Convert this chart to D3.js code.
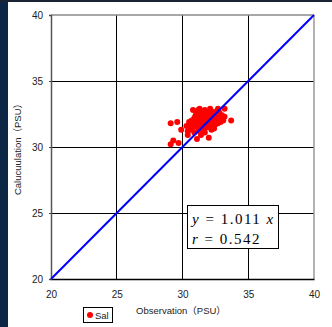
<!DOCTYPE html>
<html>
<head>
<meta charset="utf-8">
<script src="https://cdn.jsdelivr.net/npm/d3@7"></script>
<style>
  html, body { margin: 0; padding: 0; background: #ffffff; }
  svg { display: block; }
</style>
</head>
<body>
<script>
// Salinity: observed vs. calculated (PSU)
const obs = [
  29.1, 29.6, 29.3, 29.1, 29.7, 29.9, 31.1, 32.0, 30.4, 33.7, 33.2, 32.7, 31.3, 30.8,
  30.3, 30.5, 30.6, 30.7, 30.8, 30.9, 31.0, 30.6, 30.9, 30.4,
  31.1, 31.2, 31.3, 31.4, 31.1, 31.2, 31.3, 31.4, 31.5, 31.5, 31.0, 31.2, 31.4,
  31.6, 31.7, 31.8, 31.9, 31.6, 31.7, 31.8, 31.9, 32.0, 31.6, 31.8, 31.7, 32.0,
  32.1, 32.2, 32.3, 32.4, 32.1, 32.2, 32.3, 32.4, 32.5, 32.1, 32.3, 32.5, 32.2, 32.4,
  32.6, 32.7, 32.8, 32.9, 32.6, 33.0, 32.8, 33.1, 32.7, 32.9, 33.2,
  31.5, 31.7, 31.9, 32.1, 32.3, 32.5, 32.6, 31.3, 31.6, 32.0, 32.2, 32.8, 31.8, 32.4,
  30.9, 31.1, 31.4, 31.9, 32.0, 32.7, 30.6, 31.2, 31.6, 32.3
];
const calc = [
  31.8, 31.9, 30.5, 30.2, 30.3, 31.3, 30.6, 30.7, 30.9, 32.0, 32.9, 32.9, 32.9, 32.8,
  31.6, 31.9, 31.3, 32.0, 31.5, 32.2, 31.8, 31.7, 31.1, 31.2,
  32.3, 31.9, 31.6, 32.1, 32.6, 32.8, 31.2, 32.4, 31.8, 32.7, 32.4, 31.4, 30.9,
  32.2, 31.6, 32.0, 32.5, 31.3, 32.8, 31.9, 31.5, 32.2, 32.5, 32.3, 31.1, 31.7,
  32.0, 32.4, 31.8, 32.2, 31.5, 32.7, 32.1, 31.9, 32.3, 32.9, 32.5, 31.7, 31.3, 32.6,
  32.1, 32.5, 32.0, 32.3, 32.7, 32.4, 32.6, 32.0, 31.8, 31.9, 32.3,
  32.0, 32.4, 32.2, 31.9, 32.6, 32.0, 31.9, 32.0, 31.9, 32.0, 32.1, 32.4, 31.7, 31.4,
  31.6, 31.9, 31.5, 31.8, 32.6, 32.2, 31.5, 32.1, 32.0, 31.6
];
const xTicks = [20, 25, 30, 35, 40];
const yTicks = [20, 25, 30, 35, 40];
const identityLine = [20, 40];
const fitText = ["1.011", "0.542"];
const seriesName = "Sal";
const xTitle = "Observation\uFF08PSU\uFF09";
const yTitle = "Calucuulation\uFF08PSU\uFF09";

const W = 332, H = 327;
const plot = { left: 51, right: 314, top: 15, bottom: 279 };

const svg = d3.select("body").append("svg")
  .attr("width", W).attr("height", H);

// frame
svg.append("rect").attr("x", 0).attr("y", 0).attr("width", W).attr("height", H).attr("fill", "#fff");
svg.append("rect").attr("x", 0).attr("y", 0).attr("width", 8).attr("height", H).attr("fill", "#0c2646");
svg.append("rect").attr("x", 0).attr("y", 0).attr("width", W).attr("height", 2).attr("fill", "#1b2433");

const x = d3.scaleLinear().domain([20, 40]).range([plot.left, plot.right]);
const y = d3.scaleLinear().domain([20, 40]).range([plot.bottom, plot.top]);

// grid
const grid = svg.append("g");
grid.selectAll("line.v").data(xTicks.slice(1, -1)).join("line")
  .attr("x1", d => x(d)).attr("x2", d => x(d))
  .attr("y1", plot.top).attr("y2", plot.bottom)
  .attr("stroke", "#000").attr("stroke-width", 1).attr("shape-rendering", "crispEdges");
grid.selectAll("line.h").data(yTicks.slice(1, -1)).join("line")
  .attr("y1", d => y(d)).attr("y2", d => y(d))
  .attr("x1", plot.left).attr("x2", plot.right)
  .attr("stroke", "#000").attr("stroke-width", 1).attr("shape-rendering", "crispEdges");

// plot border
svg.append("line").attr("x1", plot.left).attr("x2", plot.right).attr("y1", plot.top).attr("y2", plot.top)
  .attr("stroke", "#8a8a8a").attr("stroke-width", 1.5);
svg.append("line").attr("x1", plot.right).attr("x2", plot.right).attr("y1", plot.top).attr("y2", plot.bottom)
  .attr("stroke", "#9a9a9a").attr("stroke-width", 1.5);

// axes
const xAxis = svg.append("g").attr("transform", `translate(0,${plot.bottom})`)
  .call(d3.axisBottom(x).tickValues(xTicks).tickSize(0).tickPadding(12));
const yAxis = svg.append("g").attr("transform", `translate(${plot.left},0)`)
  .call(d3.axisLeft(y).tickValues(yTicks).tickSize(2).tickPadding(6));
xAxis.select(".domain").attr("stroke", "#000").attr("stroke-width", 1.5);
yAxis.select(".domain").attr("stroke", "#555").attr("stroke-width", 1.5);
yAxis.selectAll(".tick line").attr("stroke", "#444");
[xAxis, yAxis].forEach(a => a.selectAll("text")
  .attr("font-family", "'Liberation Sans', Arial, sans-serif")
  .attr("font-size", 10).attr("fill", "#222"));

// data points
svg.append("g").selectAll("circle").data(obs.map((o, i) => [o, calc[i]])).join("circle")
  .attr("cx", d => x(d[0])).attr("cy", d => y(d[1])).attr("r", 3)
  .attr("fill", "#ff0000");

// 1:1 line
svg.append("line")
  .attr("x1", x(identityLine[0])).attr("y1", y(identityLine[0]))
  .attr("x2", x(identityLine[1])).attr("y2", y(identityLine[1]))
  .attr("stroke", "#0000ff").attr("stroke-width", 2);

// regression annotation
svg.append("rect").attr("x", 187.5).attr("y", 205.5).attr("width", 91).attr("height", 43)
  .attr("fill", "#fff").attr("stroke", "#000").attr("stroke-width", 1);
const eq = svg.append("g").attr("font-family", "'Liberation Serif', 'Times New Roman', serif")
  .attr("font-size", 15).attr("fill", "#000").attr("letter-spacing", 1.5);
const t1 = eq.append("text").attr("x", 192).attr("y", 224);
t1.append("tspan").attr("font-style", "italic").text("y");
t1.append("tspan").text(` = ${fitText[0]} `);
t1.append("tspan").attr("font-style", "italic").text("x");
const t2 = eq.append("text").attr("x", 192).attr("y", 244);
t2.append("tspan").attr("font-style", "italic").text("r");
t2.append("tspan").text(` = ${fitText[1]}`);

// axis titles
svg.append("text").attr("x", 181).attr("y", 314).attr("text-anchor", "middle")
  .attr("font-family", "'Liberation Sans', 'Noto Sans CJK JP', sans-serif")
  .attr("font-size", 9.5).attr("fill", "#222").text(xTitle);
svg.append("text").attr("transform", "translate(21,147) rotate(-90)").attr("text-anchor", "middle")
  .attr("font-family", "'Liberation Sans', 'Noto Sans CJK JP', sans-serif")
  .attr("font-size", 9.5).attr("fill", "#222").text(yTitle);

// legend
svg.append("rect").attr("x", 83.5).attr("y", 307.5).attr("width", 29).attr("height", 15)
  .attr("fill", "#fff").attr("stroke", "#000").attr("stroke-width", 1);
svg.append("circle").attr("cx", 90).attr("cy", 315).attr("r", 3).attr("fill", "#ff0000");
svg.append("text").attr("x", 95).attr("y", 319)
  .attr("font-family", "'Liberation Sans', Arial, sans-serif")
  .attr("font-size", 9.5).attr("fill", "#222").text(seriesName);
</script>
</body>
</html>
